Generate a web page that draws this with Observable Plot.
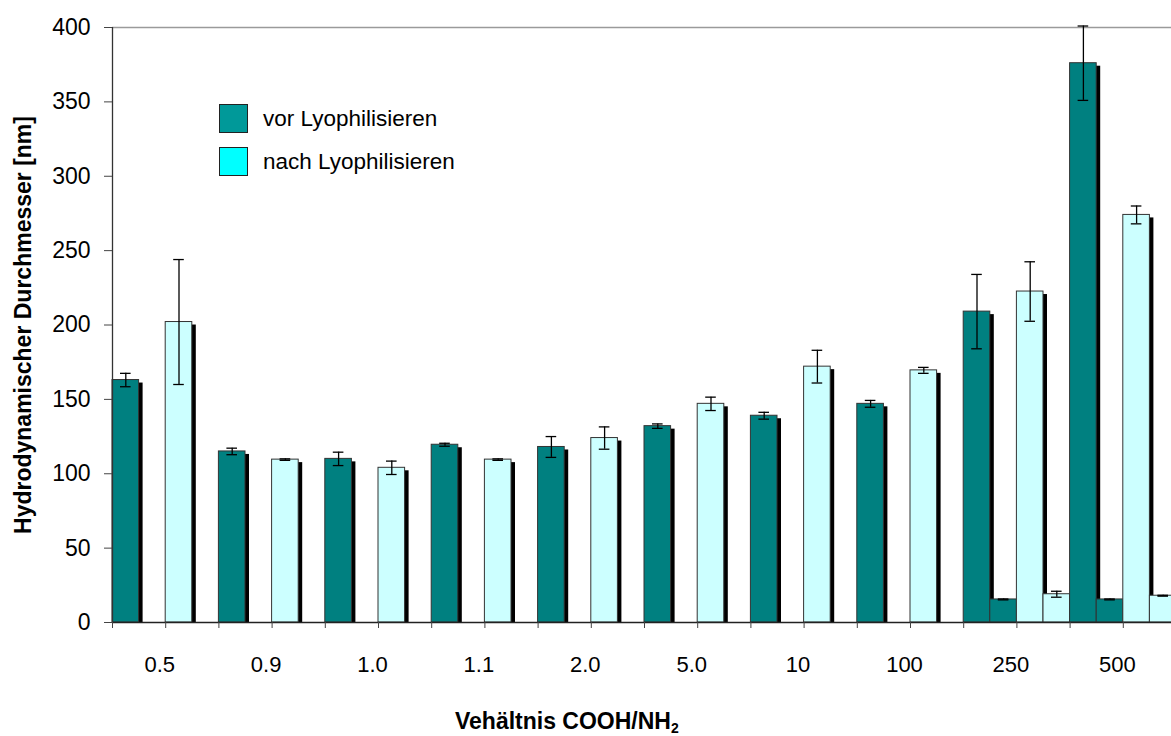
<!DOCTYPE html>
<html>
<head>
<meta charset="utf-8">
<script src="https://cdn.jsdelivr.net/npm/d3@7"></script>
<script src="https://cdn.jsdelivr.net/npm/@observablehq/plot@0.6"></script>
<style>
html,body{margin:0;padding:0;background:#fff;overflow:hidden;}
#wrap{position:relative;width:1171px;height:736px;font-family:"Liberation Sans",Arial,sans-serif;overflow:hidden;}
#chart svg{display:block;}
.legend{position:absolute;left:219px;top:104px;font-size:22.5px;color:#000;}
.legend .row{display:flex;align-items:center;height:29px;margin-bottom:14px;}
.legend .sw{width:27px;height:27px;border:1px solid #222;margin-right:15px;box-sizing:content-box;}
#xtitle{position:absolute;left:455px;top:710px;font-weight:bold;font-size:23px;line-height:23px;white-space:nowrap;color:#000;}
#xtitle sub{font-size:14px;line-height:0;vertical-align:-4px;}
</style>
</head>
<body>
<div id="wrap">
  <div id="chart"></div>
  <div class="legend">
    <div class="row"><div class="sw" style="background:#009999"></div><span>vor Lyophilisieren</span></div>
    <div class="row"><div class="sw" style="background:#00ffff"></div><span>nach Lyophilisieren</span></div>
  </div>
  <div id="xtitle">Vehältnis COOH/NH<sub>2</sub></div>
</div>
<script>
const categories = ["0.5", "0.9", "1.0", "1.1", "2.0", "5.0", "10", "100", "250", "500"];
const vorMean = [163, 115, 110, 119.5, 118, 132, 139, 147, 209, 376];
const vorErr = [4.5, 2.2, 4.5, 1, 7, 1.5, 2.3, 2.3, 25, 25];
const nachMean = [202, 109.5, 104, 109.5, 124, 147, 172, 169.5, 222.5, 274];
const nachErr = [42, 0.5, 4.5, 0.5, 7.5, 4.5, 11, 2, 20, 6];
const vorPeak2 = [null, null, null, null, null, null, null, null, 15.5, 15.5];
const vorPeak2Err = [null, null, null, null, null, null, null, null, 0.3, 0.3];
const nachPeak2 = [null, null, null, null, null, null, null, null, 19, 18];
const nachPeak2Err = [null, null, null, null, null, null, null, null, 2, 0.3];
const yTicks = [0, 50, 100, 150, 200, 250, 300, 350, 400];

const rows = [];
categories.forEach((c, i) => {
  rows.push({cat: c, state: "vor", slot: 2 * i, sub: 0, value: vorMean[i], err: vorErr[i]});
  if (vorPeak2[i] != null) rows.push({cat: c, state: "vor", slot: 2 * i, sub: 1, value: vorPeak2[i], err: vorPeak2Err[i]});
  rows.push({cat: c, state: "nach", slot: 2 * i + 1, sub: 0, value: nachMean[i], err: nachErr[i]});
  if (nachPeak2[i] != null) rows.push({cat: c, state: "nach", slot: 2 * i + 1, sub: 1, value: nachPeak2[i], err: nachPeak2Err[i]});
});

const bx1 = d => d.slot + d.sub * 0.5;
const bx2 = d => d.slot + d.sub * 0.5 + 0.5;
const bxc = d => d.slot + d.sub * 0.5 + 0.25;

const chart = Plot.plot({
  width: 1171,
  height: 736,
  marginTop: 27,
  marginBottom: 114,
  marginLeft: 112,
  marginRight: 0,
  style: {fontFamily: "'Liberation Sans', Arial, sans-serif", background: "white", overflow: "hidden", color: "black"},
  x: {type: "linear", domain: [0, 20], range: [112, 1176]},
  y: {domain: [0, 400], range: [622, 27]},
  color: {domain: ["vor", "nach"], range: ["#008080", "#ccffff"]},
  marks: [
    Plot.ruleY([400], {stroke: "#9a9a9a", strokeWidth: 1.4}),
    Plot.rect(rows, {x1: bx1, x2: bx2, y1: 0, y2: "value", fill: "black", dx: 4, insetTop: 3}),
    Plot.rect(rows, {x1: bx1, x2: bx2, y1: 0, y2: "value", fill: "state", stroke: "#333", strokeWidth: 1}),
    Plot.ruleX(rows, {x: bxc, y1: d => d.value - d.err, y2: d => d.value + d.err, stroke: "black", strokeWidth: 1.3}),
    Plot.ruleY(rows, {y: d => d.value + d.err, x1: bx1, x2: bx2, insetLeft: 8, insetRight: 8, stroke: "black", strokeWidth: 1.3}),
    Plot.ruleY(rows, {y: d => d.value - d.err, x1: bx1, x2: bx2, insetLeft: 8, insetRight: 8, stroke: "black", strokeWidth: 1.3}),
    Plot.ruleY([0], {stroke: "#222", strokeWidth: 1.3}),
    Plot.ruleX([0], {stroke: "#333", strokeWidth: 1.3}),
    Plot.axisY({ticks: yTicks, tickSize: 8, tickPadding: 14, fontSize: 23, label: null, stroke: "#444"}),
    Plot.axisX({ticks: d3.range(0, 21), tickSize: 6, tickFormat: () => "", label: null, stroke: "#444"}),
    Plot.axisX({ticks: categories.map((c, i) => 2 * i + 1), tickSize: 0, tickPadding: 34, tickFormat: d => categories[(d - 1) / 2], fontSize: 22, dx: -6, label: null}),
    Plot.text(["Hydrodynamischer Durchmesser [nm]"], {text: d => d, frameAnchor: "left", textAnchor: "middle", lineAnchor: "middle", rotate: -90, dx: -89, fontWeight: "bold", fontSize: 23, fill: "black"})
  ]
});
document.getElementById("chart").appendChild(chart);
</script>
</body>
</html>
